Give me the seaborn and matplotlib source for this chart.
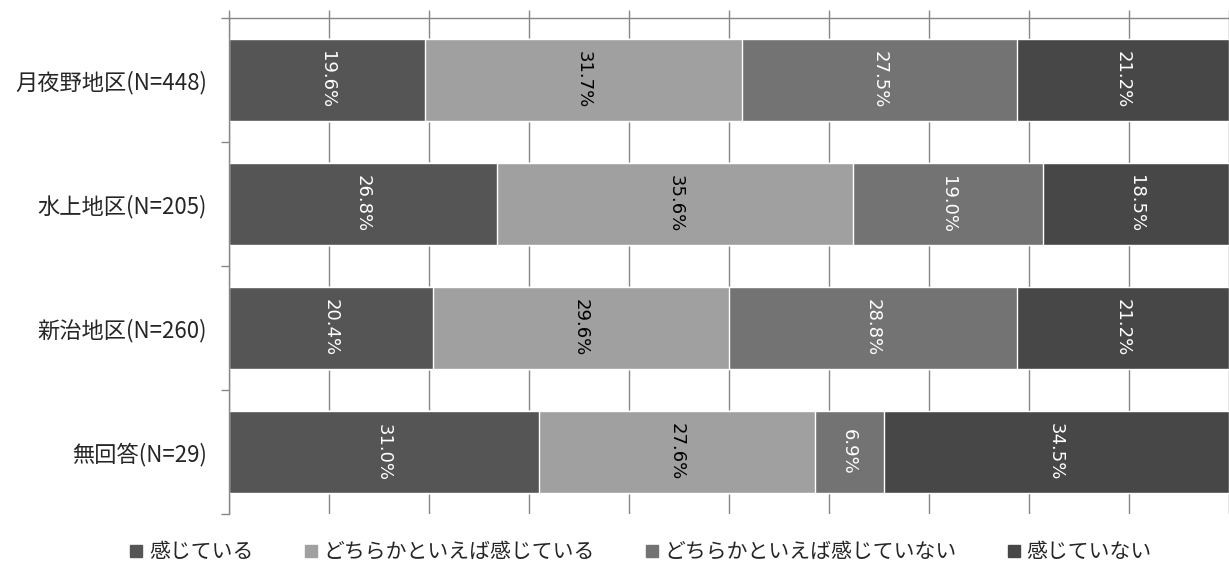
import numpy as np
import pandas as pd
import matplotlib
matplotlib.use("Agg")
import matplotlib.pyplot as plt
import seaborn as sns
from matplotlib.lines import Line2D

sns.set_style("white")
plt.rcParams['font.family'] = ['Noto Sans CJK JP', 'DejaVu Sans']

# data
categories = ['月夜野地区(N=448)', '水上地区(N=205)', '新治地区(N=260)', '無回答(N=29)']
series = ['感じている', 'どちらかといえば感じている', 'どちらかといえば感じていない', '感じていない']
kanjiteiru = [19.6, 26.8, 20.4, 31.0]
dochira_kanjiteiru = [31.7, 35.6, 29.6, 27.6]
dochira_kanjitenai = [27.5, 19.0, 28.8, 6.9]
kanjitenai = [21.2, 18.5, 21.2, 34.5]

colors = ['#555555', '#a0a0a0', '#737373', '#474747']
text_colors = ['white', 'black', 'white', 'white']

df = pd.DataFrame({'cat': categories,
                   series[0]: kanjiteiru, series[1]: dochira_kanjiteiru,
                   series[2]: dochira_kanjitenai, series[3]: kanjitenai})
vals = df[series].to_numpy()
pct = vals / vals.sum(axis=1, keepdims=True) * 100
cum = np.cumsum(pct, axis=1)

fig = plt.figure(figsize=(12.29, 5.78), dpi=100)
ax = fig.add_axes([229/1229, 64/578, (1228.5-229)/1229, (514-18)/578])

# stacked: draw cumulative totals from the back
for i in range(len(series)-1, -1, -1):
    sns.barplot(x=cum[:, i], y=categories, orient='h', color=colors[i],
                saturation=1, width=0.66, ax=ax, zorder=2)

for r in range(len(categories)):
    for i in range(len(series)):
        xc = cum[r, i] - pct[r, i] / 2
        ax.text(xc, r, f'{vals[r, i]:.1f}%', rotation=270, ha='center', va='center',
                fontsize=13, color=text_colors[i], fontfamily='DejaVu Sans', zorder=3)

ax.set_xlim(0, 100)
ax.set_ylim(len(categories) - 0.5, -0.5)
ax.set_xticks(np.arange(0, 101, 10))
ax.xaxis.tick_top()
ax.tick_params(axis='x', which='major', direction='out', length=6, width=1,
               color='#878787', labeltop=False, labelbottom=False)
ax.grid(axis='x', color='#878787', linewidth=1, zorder=0)
ax.set_axisbelow(True)

ax.set_yticks(range(len(categories)))
ax.set_yticklabels(categories, fontsize=16)
ax.set_yticks(np.arange(-0.5, len(categories), 1), minor=True)
ax.tick_params(axis='y', which='major', length=0, pad=16)
ax.tick_params(axis='y', which='minor', direction='out', length=6, width=1, color='#878787', left=True)
ax.set_xlabel('')
ax.set_ylabel('')

for s in ['right', 'bottom']:
    ax.spines[s].set_visible(False)
for s in ['left', 'top']:
    ax.spines[s].set_color('#878787')
    ax.spines[s].set_linewidth(1)

handles = [Line2D([], [], marker='s', linestyle='', markersize=9, color=c) for c in colors]
fig.legend(handles, series, loc='center', bbox_to_anchor=(0.521, 0.045), ncol=4,
           frameon=False, fontsize=15, handlelength=0.7, handletextpad=0.25,
           columnspacing=2.4)

fig.savefig('out.png', dpi=100)
